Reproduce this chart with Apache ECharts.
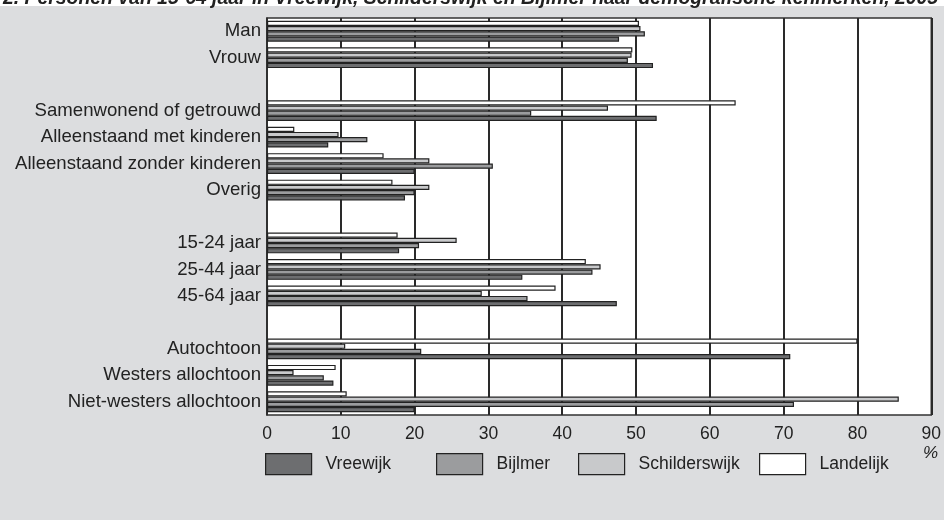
<!DOCTYPE html>
<html><head><meta charset="utf-8">
<script src="https://cdn.jsdelivr.net/npm/echarts@6/dist/echarts.min.js"></script>
<style>
html,body{margin:0;padding:0;background:#fff;}
#c{width:944px;height:520px;background:linear-gradient(#fff 0,#fff 6px,#dcdddf 6px);}
</style></head>
<body><div id="c"></div>
<script>
const titleText = '2. Personen van 15-64 jaar in Vreewijk, Schilderswijk en Bijlmer naar demografische kenmerken, 2005';
const groups = [
  ['Man', 'Vrouw'],
  ['Samenwonend of getrouwd', 'Alleenstaand met kinderen', 'Alleenstaand zonder kinderen', 'Overig'],
  ['15-24 jaar', '25-44 jaar', '45-64 jaar'],
  ['Autochtoon', 'Westers allochtoon', 'Niet-westers allochtoon']
];
const seriesNames = ['Landelijk', 'Schilderswijk', 'Bijlmer', 'Vreewijk'];
const landelijk     = [50.4, 49.5, 63.5, 3.7, 15.8, 17.0, 17.7, 43.2, 39.1, 80.0, 9.3, 10.8];
const schilderswijk = [50.6, 49.4, 46.2, 9.7, 22.0, 22.0, 25.7, 45.2, 29.1, 10.6, 3.6, 85.6];
const bijlmer       = [51.2, 48.9, 35.8, 13.6, 30.6, 20.0, 20.6, 44.1, 35.3, 20.9, 7.7, 71.4];
const vreewijk      = [47.7, 52.3, 52.8, 8.3, 20.0, 18.7, 17.9, 34.6, 47.4, 70.9, 9.0, 20.0];
const xTicks = [0, 10, 20, 30, 40, 50, 60, 70, 80, 90];
const colors = {Landelijk: '#ffffff', Schilderswijk: '#c8c9cb', Bijlmer: '#9b9c9e', Vreewijk: '#6d6e70'};
const valuesByName = {Landelijk: landelijk, Schilderswijk: schilderswijk, Bijlmer: bijlmer, Vreewijk: vreewijk};

// build category axis with blank spacer rows between groups
const cats = [];
groups.forEach((g, gi) => {
  if (gi > 0) { cats.push(' '.repeat(gi)); }
  g.forEach(n => { cats.push(n); });
});
function expand(vals) {
  const out = new Array(cats.length).fill(null);
  let k = 0;
  cats.forEach((c, i) => { if (c.trim() !== '') { out[i] = vals[k++]; } });
  return out;
}
const FONT = 'Liberation Sans, Arial, sans-serif';
const chart = echarts.init(document.getElementById('c'), null, {renderer: 'canvas'});
const legendPos = {Vreewijk: 265, Bijlmer: 436, Schilderswijk: 578, Landelijk: 759};
const legends = Object.keys(legendPos).map(n => ({
  data: [n], left: legendPos[n], top: 453, itemWidth: 46, itemHeight: 21,
  icon: 'rect', padding: 0, selectedMode: false,
  itemStyle: {borderColor: '#222', borderWidth: 1.2},
  textStyle: {fontFamily: FONT, fontSize: 17.5, color: '#222', padding: [0, 0, 0, 9]}
}));
chart.setOption({
  animation: false,
  backgroundColor: 'transparent',
  textStyle: {fontFamily: FONT},
  graphic: [
    {type: 'text', left: 3, top: -11, style: {text: titleText, font: 'italic bold 19.4px ' + FONT, fill: '#222'}},
    {type: 'text', right: 6, top: 445, style: {text: '%', font: 'italic 17px ' + FONT, fill: '#222'}}
  ],
  legend: legends,
  grid: {left: 267, right: 12, top: 18, bottom: 105, show: true, backgroundColor: '#fff', borderColor: '#333', borderWidth: 1.5},
  xAxis: {
    type: 'value', min: xTicks[0], max: xTicks[xTicks.length - 1], interval: 10,
    axisLine: {show: false}, axisTick: {show: false},
    splitLine: {show: true, lineStyle: {color: '#2a2a2a', width: 2}},
    axisLabel: {fontFamily: FONT, fontSize: 17.5, color: '#222', margin: 10}
  },
  yAxis: {
    type: 'category', data: cats, inverse: true,
    axisLine: {show: true, lineStyle: {color: '#333', width: 1.5}},
    axisTick: {show: false},
    axisLabel: {fontFamily: FONT, fontSize: 18.6, color: '#222', margin: 6}
  },
  series: seriesNames.map(n => ({
    name: n, type: 'bar', data: expand(valuesByName[n]),
    barWidth: 5.2, barGap: '0%',
    itemStyle: {color: colors[n], borderColor: '#222', borderWidth: 1.2},
    emphasis: {disabled: true}
  }))
});
</script></body></html>
